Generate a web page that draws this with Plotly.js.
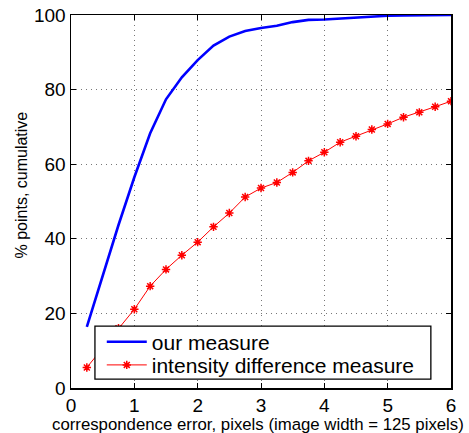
<!DOCTYPE html>
<html>
<head>
<meta charset="utf-8">
<script src="https://cdn.plot.ly/plotly-3.0.1.min.js"></script>
<style>html,body{margin:0;padding:0;background:#fff;}#chart{width:469px;height:433px;}</style>
</head>
<body>
<div id="chart"></div>
<script>
const errPixels = [0.25,0.5,0.75,1,1.25,1.5,1.75,2,2.25,2.5,2.75,3,3.25,3.5,3.75,4,4.25,4.5,4.75,5,5.25,5.5,5.75,6];
const ourMeasure = [16.4,30.2,43.7,56.5,68.3,77.4,83.3,87.9,91.8,94.2,95.7,96.5,97.1,98.1,98.7,98.8,99.1,99.4,99.6,99.8,99.9,99.9,100,100];
const intensityDiff = [5.5,10.8,16.0,21.1,27.3,31.8,35.6,39.1,43.2,46.9,51.2,53.6,55.1,57.8,60.9,63.2,65.9,67.5,69.3,70.8,72.6,73.9,75.4,76.9];
const seriesNames = ['our measure','intensity difference measure'];
const xTitle = 'correspondence error, pixels (image width = 125 pixels)';
const yTitle = '% points, cumulative';

const font = 'Liberation Sans, Arial, Helvetica, sans-serif';
const traces = [
  {x: errPixels, y: ourMeasure, name: seriesNames[0], mode: 'lines', legend: 'legend',
   line: {color: '#0000ff', width: 2.6}},
  {x: errPixels, y: intensityDiff, name: seriesNames[1], mode: 'lines+markers', legend: 'legend2',
   line: {color: '#ff0000', width: 1},
   marker: {symbol: 'asterisk', size: 7, color: '#ff0000', line: {color: '#ff0000', width: 1.5}}}
];
const axisCommon = {
  showline: true, linecolor: '#000', linewidth: 1.5, mirror: 'ticks',
  ticks: 'inside', ticklen: 5, tickcolor: '#000', tickwidth: 1,
  showgrid: true, gridcolor: '#777', griddash: '1px,4px', gridwidth: 1,
  zeroline: false, tickfont: {family: font, size: 19, color: '#000'}
};
const legendCommon = {
  xanchor: 'left', yanchor: 'middle', x: 0.081,
  bgcolor: 'rgba(0,0,0,0)', borderwidth: 0, itemwidth: 40,
  font: {family: font, size: 21, color: '#000'}
};
const layout = {
  width: 469, height: 433,
  margin: {l: 71, r: 18, t: 15, b: 45},
  paper_bgcolor: '#fff', plot_bgcolor: '#fff',
  showlegend: true,
  legend: Object.assign({}, legendCommon, {y: 0.123}),
  legend2: Object.assign({}, legendCommon, {y: 0.061}),
  shapes: [{type: 'rect', xref: 'paper', yref: 'paper', layer: 'above',
    x0: 0.063, x1: 0.947, y0: 0.024, y1: 0.166,
    fillcolor: '#fff', line: {color: '#000', width: 1.3}}],
  annotations: [
    {text: yTitle, xref: 'paper', yref: 'paper', x: -0.1316, y: 0.5456,
     xanchor: 'center', yanchor: 'middle', textangle: -90, showarrow: false,
     font: {family: font, size: 16, color: '#000'}},
    {text: xTitle, xref: 'paper', yref: 'paper', x: 0.4908, y: -0.097,
     xanchor: 'center', yanchor: 'middle', showarrow: false,
     font: {family: font, size: 16.8, color: '#000'}}
  ],
  xaxis: Object.assign({}, axisCommon, {range: [0, 6], dtick: 1, tick0: 0}),
  yaxis: Object.assign({}, axisCommon, {range: [0, 100], dtick: 20, tick0: 0})
};
Plotly.newPlot('chart', traces, layout, {displayModeBar: false, staticPlot: true});
</script>
</body>
</html>
